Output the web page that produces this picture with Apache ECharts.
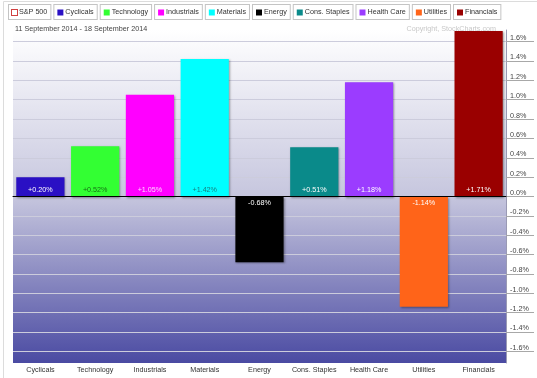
<!DOCTYPE html>
<html>
<head>
<meta charset="utf-8">
<script src="https://cdn.jsdelivr.net/npm/echarts@6/dist/echarts.min.js"></script>
<style>
  html, body { margin: 0; padding: 0; background: #fff; }
  #chart { width: 537px; height: 378px; }
</style>
</head>
<body>
<div id="chart"></div>
<script>
// Sector performance, 11-18 Sep 2014
const sectors = ['Cyclicals', 'Technology', 'Industrials', 'Materials', 'Energy',
    'Cons. Staples', 'Health Care', 'Utilities', 'Financials'];
const changes = [0.20, 0.52, 1.05, 1.42, -0.68, 0.51, 1.18, -1.14, 1.71];
const barColors = ['#2a10c4', '#33ff33', '#ff00ff', '#00ffff', '#000000',
    '#0a8a8a', '#9b3cff', '#ff6419', '#9a0000'];
const labelColors = ['#ffffff', '#157015', '#ffd6ff', '#158080', '#ffffff',
    '#ffffff', '#ffffff', '#ffffff', '#ffffff'];
const yTicks = [-1.6, -1.4, -1.2, -1.0, -0.8, -0.6, -0.4, -0.2, 0,
    0.2, 0.4, 0.6, 0.8, 1.0, 1.2, 1.4, 1.6];
const benchmark = 'S&P 500';
const dateRange = '11 September 2014 - 18 September 2014';

const FONT = '"Liberation Sans", Arial, sans-serif';

const chart = echarts.init(document.getElementById('chart'), null, { renderer: 'canvas' });

// legend squares as rich-text tokens, one style per entry
const rich = {
    s9: { width: 5, height: 5, backgroundColor: '#fff', borderColor: '#d04040', borderWidth: 1 }
};
barColors.forEach((c, i) => {
    rich['s' + i] = { width: 6, height: 6, backgroundColor: c };
});
const legendNames = [benchmark].concat(sectors);

const sectorSeries = sectors.map((name, i) => ({
    name: name,
    type: 'bar',
    stack: 'all',
    barCategoryGap: '12%',
    data: sectors.map((_, j) => (j === i ? changes[i] : '-')),
    itemStyle: {
        color: barColors[i],
        shadowColor: 'rgba(0,0,0,0.35)',
        shadowBlur: 2,
        shadowOffsetX: 1,
        shadowOffsetY: 1
    },
    label: {
        show: true,
        position: changes[i] >= 0 ? 'insideBottom' : 'insideTop',
        distance: 3,
        color: labelColors[i],
        fontSize: 7.2,
        fontFamily: FONT,
        formatter: (p) => (p.value > 0 ? '+' : '') + p.value.toFixed(2) + '%'
    },
    emphasis: { disabled: true }
}));

chart.setOption({
    animation: false,
    backgroundColor: '#fff',
    textStyle: { fontFamily: FONT },
    graphic: [{
        type: 'rect',
        shape: { x: 3.5, y: 1.5, width: 560, height: 400 },
        style: { fill: 'none', stroke: '#dcdcdc', lineWidth: 1 },
        silent: true,
        z: -10
    }],
    title: [{
        text: dateRange,
        left: 10,
        top: 21,
        textStyle: { fontSize: 7.2, fontWeight: 'normal', color: '#444', fontFamily: FONT }
    }, {
        text: 'Copyright, StockCharts.com',
        right: 36,
        top: 21,
        textStyle: { fontSize: 7.2, fontWeight: 'normal', color: '#c8c8c8', fontFamily: FONT }
    }],
    legend: {
        data: legendNames,
        top: 4,
        left: 4,
        width: 530,
        padding: 0,
        itemGap: -2,
        icon: 'none',
        itemWidth: 0,
        itemHeight: 0,
        selectedMode: false,
        formatter: (name) => {
            const k = name === benchmark ? 's9' : 's' + sectors.indexOf(name);
            return '{' + k + '|} ' + name;
        },
        textStyle: {
            fontSize: 7.2,
            color: '#333',
            fontFamily: FONT,
            backgroundColor: '#fff',
            borderColor: '#c4c4c4',
            borderWidth: 1,
            padding: [4, 3, 3, 3],
            rich: rich
        }
    },
    grid: {
        left: 13,
        right: 31,
        top: 30,
        bottom: 15,
        show: true,
        borderWidth: 0,
        backgroundColor: new echarts.graphic.LinearGradient(0, 0, 0, 1, [
            { offset: 0, color: '#ffffff' },
            { offset: 0.5, color: '#c6c6de' },
            { offset: 1, color: '#4a4aa2' }
        ])
    },
    xAxis: {
        type: 'category',
        data: sectors,
        axisLine: { show: true, onZero: true, lineStyle: { color: '#000', width: 1 } },
        axisTick: { show: false },
        axisLabel: {
            interval: 0,
            color: '#333',
            fontSize: 7.2,
            fontFamily: FONT,
            margin: 4
        },
        splitLine: { show: false },
        z: 5
    },
    yAxis: {
        type: 'value',
        position: 'right',
        min: -1.72,
        max: 1.72,
        axisLine: { show: true, lineStyle: { color: '#9a9ab4' } },
        axisTick: {
            show: true,
            length: 28,
            customValues: yTicks,
            lineStyle: { color: '#a8a8a8' }
        },
        axisLabel: {
            customValues: yTicks,
            color: '#444',
            fontSize: 7.2,
            fontFamily: FONT,
            margin: 4,
            verticalAlign: 'bottom',
            formatter: (v) => v.toFixed(1) + '%'
        },
        splitLine: { show: true, lineStyle: { color: '#ccccdc', width: 1 } }
    },
    series: [{
        name: benchmark,
        type: 'line',
        data: [],
        itemStyle: { color: '#d04040' }
    }].concat(sectorSeries)
});
</script>
</body>
</html>
